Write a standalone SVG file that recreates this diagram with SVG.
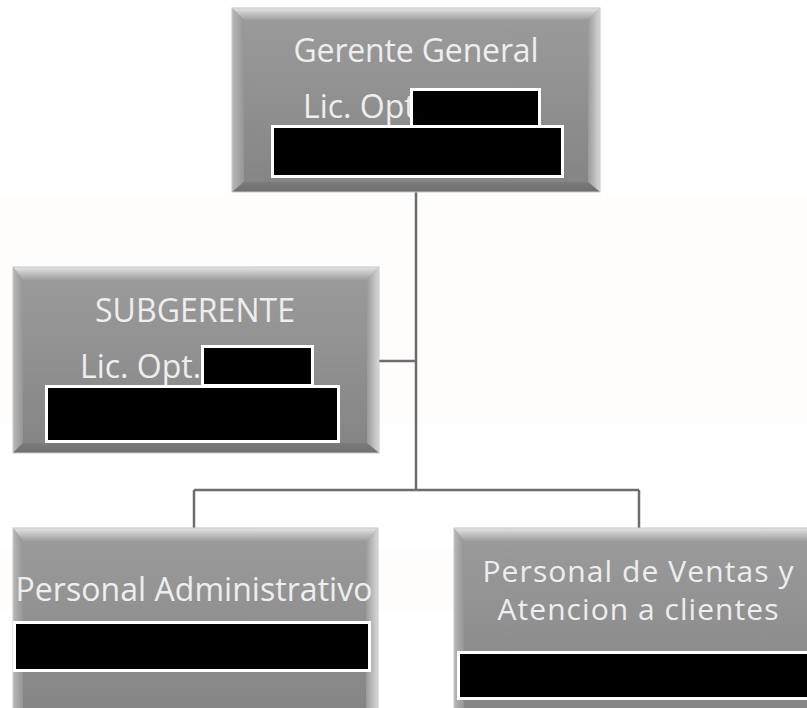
<svg xmlns="http://www.w3.org/2000/svg" width="807" height="708" viewBox="0 0 807 708">
<defs>
<linearGradient id="face" x1="0" y1="0" x2="0" y2="1">
<stop offset="0" stop-color="#9c9c9c"/><stop offset="1" stop-color="#848484"/>
</linearGradient>
<linearGradient id="topb" x1="0" y1="0" x2="0" y2="1">
<stop offset="0" stop-color="#e4e4e4"/><stop offset="1" stop-color="#9e9e9e"/>
</linearGradient>
<linearGradient id="leftb" x1="0" y1="0" x2="1" y2="0">
<stop offset="0" stop-color="#b8b8b8"/><stop offset="1" stop-color="#959595"/>
</linearGradient>
<linearGradient id="rightb" x1="0" y1="0" x2="1" y2="0">
<stop offset="0" stop-color="#9a9a9a"/><stop offset="1" stop-color="#d8d8d8"/>
</linearGradient>
<linearGradient id="botb" x1="0" y1="0" x2="0" y2="1">
<stop offset="0" stop-color="#7c7c7c"/><stop offset="1" stop-color="#6e6e6e"/>
</linearGradient>
</defs>
<style>
.face{fill:url(#face)}
.tb{fill:url(#topb)}
.lb{fill:url(#leftb)}
.rb{fill:url(#rightb)}
.bb{fill:url(#botb)}
.edge{fill:none;stroke:#c8c8c8;stroke-width:1}
.t{font-family:"Open Sans","Noto Sans","DejaVu Sans",sans-serif;font-size:32px;fill:#eeeeee}
.t2{font-size:30px}
.red{fill:#000;stroke:#fff;stroke-width:3}
.conn{fill:none;stroke:#6d6d6d;stroke-width:2.5}
</style>
<rect x="0" y="0" width="807" height="708" fill="#ffffff"/>
<rect x="0" y="195" width="807" height="230" fill="#fffdfb"/>
<rect x="0" y="548" width="807" height="62" fill="#fffdfb"/>
<g id="connectors">
<path class="conn" d="M416 192 V490 M379 361 H416 M194 490 H639 M194 490 V528 M639 490 V528"/>
</g>
<g id="gerente">
<rect x="232" y="8" width="368" height="184" class="face"/>
<polygon class="tb" points="232,8 600,8 588,20 244,20"/>
<polygon class="lb" points="232,8 244,20 244,182 232,192"/>
<polygon class="rb" points="600,8 588,20 588,182 600,192"/>
<polygon class="bb" points="232,192 244,182 588,182 600,192"/>
<rect x="232" y="8" width="368" height="184" class="edge"/>
<text class="t" x="416" y="62" text-anchor="middle" textLength="245">Gerente General</text>
<text class="t" x="303" y="118">Lic. Opt</text>
<rect class="red" x="411.5" y="89.5" width="128" height="37"/>
<rect class="red" x="272.5" y="126.5" width="290" height="50"/>
</g>
<g id="subgerente">
<rect x="13" y="267" width="366" height="186" class="face"/>
<polygon class="tb" points="13,267 379,267 367,280 23,280"/>
<polygon class="lb" points="13,267 23,280 23,443 13,453"/>
<polygon class="rb" points="379,267 367,280 367,443 379,453"/>
<polygon class="bb" points="13,453 23,443 367,443 379,453"/>
<rect x="13" y="267" width="366" height="186" class="edge"/>
<text class="t" x="195" y="322" text-anchor="middle" textLength="200">SUBGERENTE</text>
<text class="t" x="80" y="378">Lic. Opt.</text>
<rect class="red" x="202.5" y="346.5" width="110" height="39"/>
<rect class="red" x="46.5" y="386.5" width="292" height="55"/>
</g>
<g id="administrativo">
<rect x="13" y="528" width="365" height="190" class="face"/>
<polygon class="tb" points="13,528 378,528 366,541 23,541"/>
<polygon class="lb" points="13,528 23,541 23,718 13,718"/>
<polygon class="rb" points="378,528 366,541 366,718 378,718"/>
<rect x="13" y="528" width="365" height="190" class="edge"/>
<text class="t" x="194" y="601" text-anchor="middle" textLength="357">Personal Administrativo</text>
<rect class="red" x="14.5" y="622.5" width="355" height="48"/>
</g>
<g id="ventas">
<rect x="454" y="528" width="368" height="190" class="face"/>
<polygon class="tb" points="454,528 822,528 810,541 464,541"/>
<polygon class="lb" points="454,528 464,541 464,718 454,718"/>
<rect x="454" y="528" width="368" height="190" class="edge"/>
<text class="t t2" x="638" y="582" text-anchor="middle" textLength="311">Personal de Ventas y</text>
<text class="t t2" x="638" y="620" text-anchor="middle" textLength="281">Atencion a clientes</text>
<rect class="red" x="458.5" y="652.5" width="360" height="46"/>
</g>
</svg>
